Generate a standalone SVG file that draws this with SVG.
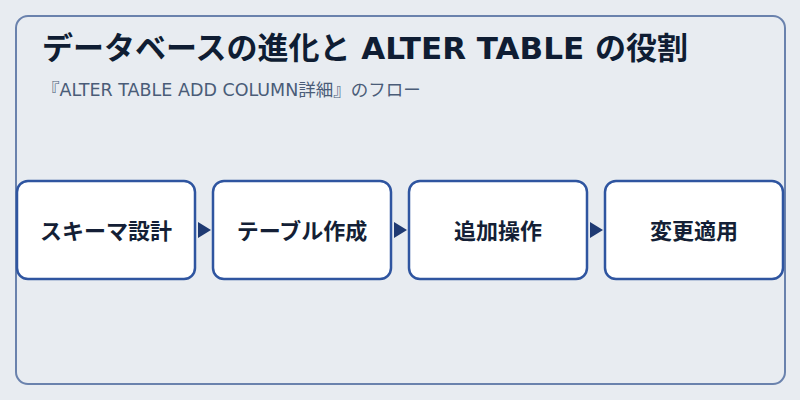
<svg xmlns="http://www.w3.org/2000/svg" width="800" height="400" viewBox="0 0 800 400">
<style>
.frame{fill:#e8ecf1;stroke:#6a82ad;stroke-width:2}
.box{fill:#ffffff;stroke:#2f55a0;stroke-width:2.5}
.lbl{font-family:"DejaVu Sans","Noto Sans CJK JP",sans-serif;font-size:22px;font-weight:bold;fill:#141f36;text-anchor:middle;dominant-baseline:central}
.arr{fill:#1f3a73}
.title{font-family:"DejaVu Sans","Noto Sans CJK JP",sans-serif;font-size:31px;font-weight:bold;fill:#0f1d33}
.sub{font-family:"DejaVu Sans","Noto Sans CJK JP",sans-serif;font-size:17.5px;fill:#4a5c78}
</style>
<rect width="800" height="400" fill="#e8ecf1"/>
<rect class="frame" x="16" y="16" width="769" height="368" rx="12"/>
<text class="title" x="42" y="59">データベースの進化と ALTER TABLE の役割</text>
<text class="sub" x="42" y="96">『ALTER TABLE ADD COLUMN詳細』のフロー</text>
<g id="connectors">
<polygon class="arr" points="198,222 211,230 198,238"/>
<polygon class="arr" points="394,222 407,230 394,238"/>
<polygon class="arr" points="590,222 603,230 590,238"/>
</g>
<g id="node1"><rect class="box" x="17" y="181" width="178" height="98" rx="11"/><text class="lbl" x="106" y="231">スキーマ設計</text></g>
<g id="node2"><rect class="box" x="213" y="181" width="178" height="98" rx="11"/><text class="lbl" x="302" y="231">テーブル作成</text></g>
<g id="node3"><rect class="box" x="409" y="181" width="178" height="98" rx="11"/><text class="lbl" x="498" y="231">追加操作</text></g>
<g id="node4"><rect class="box" x="605" y="181" width="178" height="98" rx="11"/><text class="lbl" x="694" y="231">変更適用</text></g>
</svg>
